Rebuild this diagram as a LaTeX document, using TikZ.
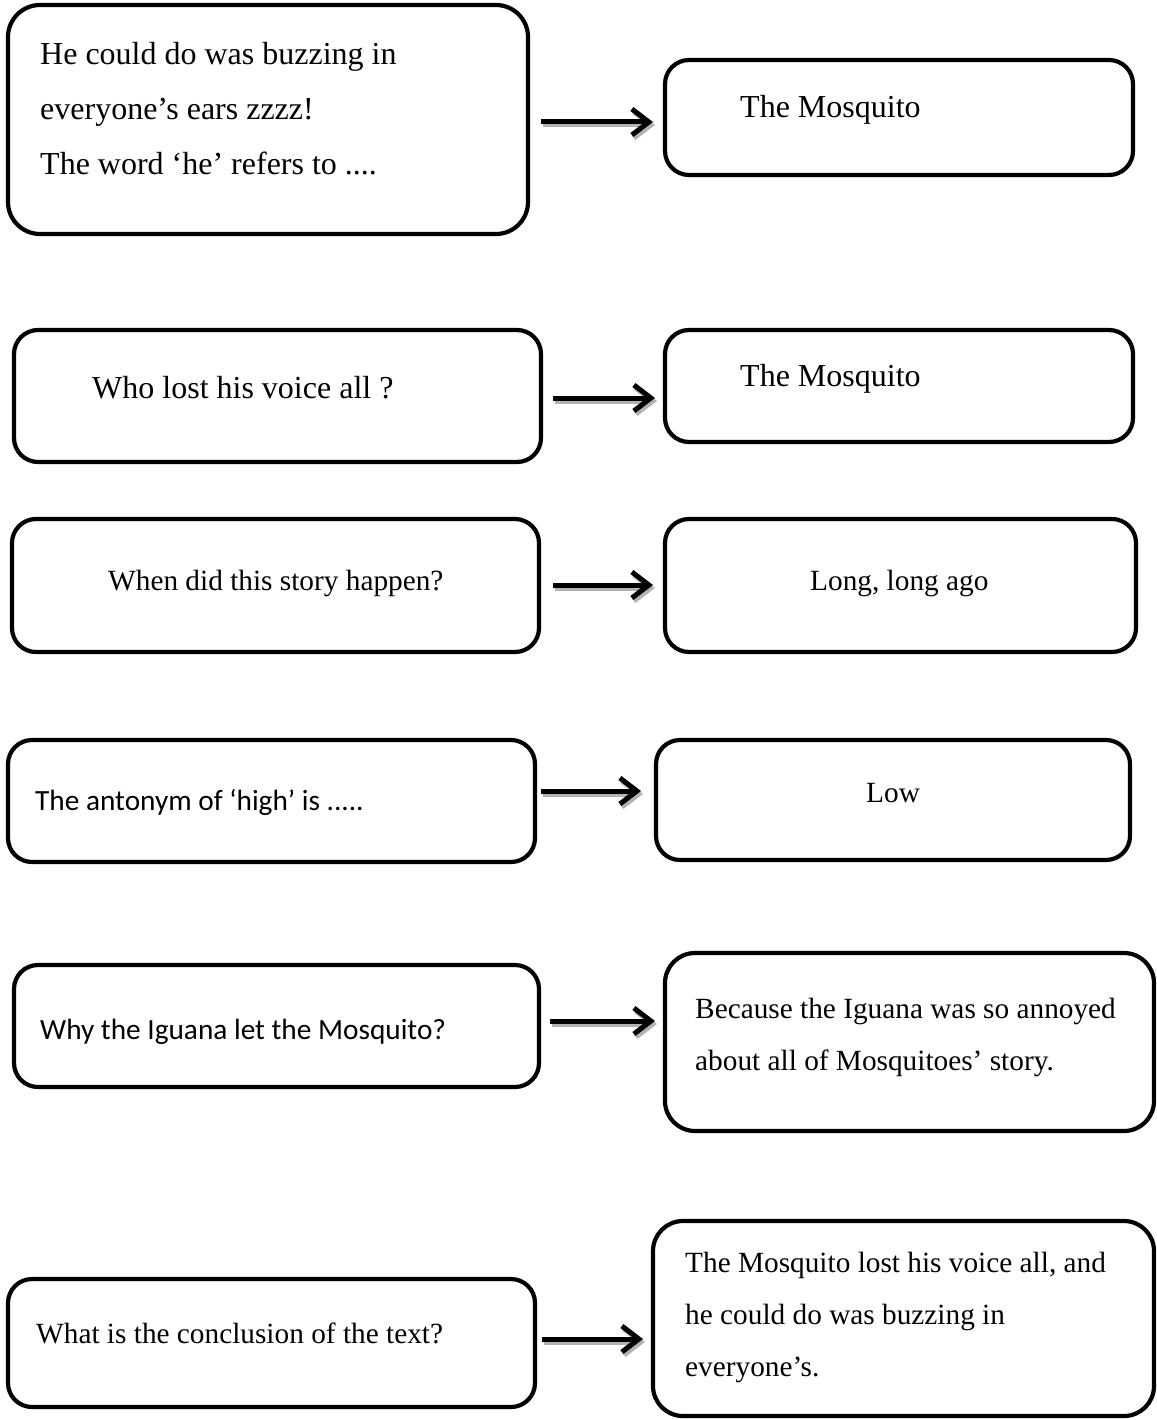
\documentclass[tikz,border=0pt]{standalone}
\usepackage{fontspec}
\setmainfont{Liberation Serif}
\newfontfamily\calib{Carlito}
\usetikzlibrary{arrows.meta}
\newcommand\conn[6]{%
  \draw[arrsh] ([shift={(#2,#3)},shift={(2,3)}]#1.east) -- ([shift={(#5,#6)},shift={(2,3)}]#4.west);
  \draw[arr] ([shift={(#2,#3)}]#1.east) -- ([shift={(#5,#6)}]#4.west);}
\begin{document}
\begin{tikzpicture}[x=1pt,y=-1pt,
 box/.style={draw,line width=4.2pt,rounded corners=24pt,anchor=north west,inner sep=0pt,outer sep=0pt},
 txt/.style={anchor=base west,inner sep=0pt,font=\fontsize{32}{38}\selectfont},
 stxt/.style={anchor=base west,inner sep=0pt,font=\fontsize{29.3}{35}\selectfont},
 ctxt/.style={anchor=base west,inner sep=0pt,font=\calib\fontsize{29.3}{35}\selectfont},
 arr/.style={line width=5pt,-{Straight Barb[length=17pt,width=26pt]}},
 arrsh/.style={arr,draw=gray!60}]
\fill[white] (0,0) rectangle (1156,1420);
\useasboundingbox (0,0) rectangle (1156,1420);
% boxes
\node[box,rounded corners=32pt,minimum width=520pt,minimum height=229pt] (q1) at (8,5) {};
\node[box,minimum width=468pt,minimum height=115pt] (a1) at (665,60) {};
\node[box,minimum width=527pt,minimum height=132pt] (q2) at (14,330) {};
\node[box,minimum width=468pt,minimum height=112pt] (a2) at (665,330) {};
\node[box,minimum width=527pt,minimum height=133pt] (q3) at (12,519) {};
\node[box,minimum width=471pt,minimum height=133pt] (a3) at (665,519) {};
\node[box,minimum width=527pt,minimum height=122pt] (q4) at (8,740) {};
\node[box,minimum width=474pt,minimum height=120pt] (a4) at (656,740) {};
\node[box,minimum width=525pt,minimum height=122pt] (q5) at (14,965) {};
\node[box,rounded corners=30pt,minimum width=489pt,minimum height=178pt] (a5) at (665,953) {};
\node[box,minimum width=527pt,minimum height=128pt] (q6) at (8,1279) {};
\node[box,rounded corners=30pt,minimum width=501pt,minimum height=195pt] (a6) at (653,1221) {};
% texts
\node[txt] (t1a) at (40,65) {He could do was buzzing in};
\node[txt] (t1b) at (40,120) {everyone’s ears zzzz!};
\node[txt] (t1c) at (40,175) {The word ‘he’ refers to ....};
\node[txt] (u1) at (740,118) {The Mosquito};
\node[txt] (t2) at (92,398) {Who lost his voice all ?};
\node[txt] (u2) at (740,386) {The Mosquito};
\node[stxt] (t3) at (108,590) {When did this story happen?};
\node[stxt] (u3) at (810,590) {Long, long ago};
\node[ctxt] (t4) at (35,810) {The antonym of ‘high’ is .....};
\node[stxt] (u4) at (866,802) {Low};
\node[ctxt] (t5) at (40,1039) {Why the Iguana let the Mosquito?};
\node[stxt] (u5a) at (695,1018) {Because the Iguana was so annoyed};
\node[stxt] (u5b) at (695,1070) {about all of Mosquitoes’ story.};
\node[stxt] (t6) at (36,1343) {What is the conclusion of the text?};
\node[stxt] (u6a) at (685,1272) {The Mosquito lost his voice all, and};
\node[stxt] (u6b) at (685,1324) {he could do was buzzing in};
\node[stxt] (u6c) at (685,1376) {everyone’s.};
% arrows
\conn{q1}{13}{2.5}{a1}{-12}{4.5}
\conn{q2}{12}{2}{a2}{-10}{12}
\conn{q3}{14}{-0.5}{a3}{-12}{-0.5}
\conn{q4}{6}{-10}{a4}{-15}{-9}
\conn{q5}{11}{-5}{a5}{-10}{-21}
\conn{q6}{7}{-4}{a6}{-10}{20.5}
\end{tikzpicture}
\end{document}
